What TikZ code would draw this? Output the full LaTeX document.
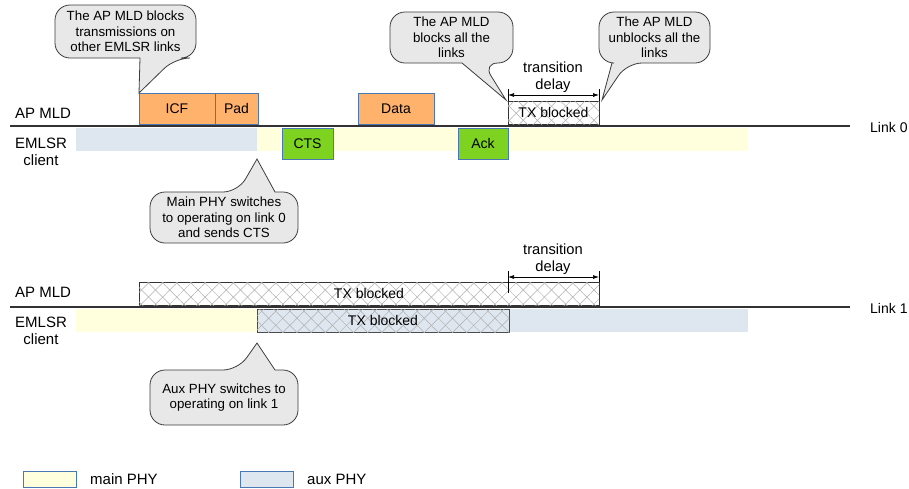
\documentclass[tikz,border=0pt]{standalone}
\usepackage{fontspec}
\setmainfont{Liberation Sans}
\usetikzlibrary{patterns.meta,arrows.meta}
\definecolor{orangebox}{RGB}{255,178,107}
\definecolor{greenbox}{RGB}{126,211,33}
\definecolor{boxedge}{RGB}{74,120,180}
\definecolor{mainphy}{RGB}{255,255,221}
\definecolor{auxphy}{RGB}{222,230,239}
\definecolor{bubblefill}{RGB}{232,232,232}
\definecolor{bubbleedge}{RGB}{60,60,60}
\definecolor{linkline}{RGB}{50,50,50}
\definecolor{hatchcol}{RGB}{175,175,175}
\tikzset{
  pkt/.style={draw=boxedge, line width=0.8pt, inner sep=0pt, outer sep=0pt, anchor=north west, font=\fontsize{14}{16}\selectfont},
  bg/.style={inner sep=0pt, outer sep=0pt, anchor=north west},
  hatched/.style={
    postaction={pattern={Lines[angle=45,distance=10pt,line width=0.5pt]}, pattern color=hatchcol},
    postaction={pattern={Lines[angle=-45,distance=10pt,line width=0.5pt]}, pattern color=hatchcol}},
  txb/.style={draw=black!80, line width=0.8pt, inner sep=0pt, outer sep=0pt, anchor=north west, font=\fontsize{14}{16}\selectfont},
  lbl/.style={font=\fontsize{15}{17}\selectfont, align=center, inner sep=0pt},
  tdl/.style={font=\fontsize{14.7}{17}\selectfont, align=center, inner sep=0pt},
  linklbl/.style={font=\fontsize{14}{16}\selectfont, anchor=west, inner sep=0pt},
  leglbl/.style={font=\fontsize{15}{17}\selectfont, anchor=west, inner sep=0pt},
  bubble/.style={draw=bubbleedge, fill=bubblefill, line width=0.8pt},
  btext/.style={font=\fontsize{13.3}{15.5}\selectfont, align=center, inner sep=0pt},
  linkrule/.style={draw=linkline, line width=1.1pt},
  dim/.style={{Latex[length=6pt,width=4pt]}-{Latex[length=6pt,width=4pt]}, line width=0.7pt},
  tick/.style={line width=0.7pt},
}
% bubble with tail below: x1,y1,x2,y2,tail-left,tail-right,tip
\newcommand\bubbleDown[7]{%
  \draw[bubble] ({(#1+#3)/2},#2) [rounded corners=15pt] -- (#3,#2) -- (#3,#4) -- (#6,#4) [sharp corners] -- #7 -- (#5,#4) [rounded corners=15pt] -- (#1,#4) -- (#1,#2) -- cycle;}
% bubble with tail above: x1,y1,x2,y2,tail-left,tail-right,tip
\newcommand\bubbleUp[7]{%
  \draw[bubble] ({(#1+#3)/2},#4) [rounded corners=15pt] -- (#1,#4) -- (#1,#2) -- (#5,#2) [sharp corners] -- #7 -- (#6,#2) [rounded corners=15pt] -- (#3,#2) -- (#3,#4) -- cycle;}
\begin{document}
\begin{tikzpicture}[x=1pt,y=-1pt]
\useasboundingbox (0,0) rectangle (909,488);

% ---------------- Link 0 ----------------
\node[bg, fill=auxphy, minimum width=181pt, minimum height=23pt] (aux0) at (76,128) {};
\node[bg, fill=mainphy, minimum width=491pt, minimum height=23pt] (main0) at (257,128) {};

\coordinate (l0a) at (10,126);
\coordinate (l0b) at (850,126);
\draw[linkrule] (l0a) -- (l0b);
\node[linklbl] (link0) at (870,127) {Link 0};

\node[lbl, anchor=west] (apmld0) at (15,113) {AP MLD};
\node[lbl] (emlsr0) at (41,152) {EMLSR\\client};

\node[pkt, fill=orangebox, minimum width=76pt, minimum height=31pt] (icf) at (139,93) {ICF};
\node[pkt, fill=orangebox, minimum width=43pt, minimum height=31pt] (pad) at (215,93) {Pad};
\node[pkt, fill=orangebox, minimum width=76pt, minimum height=31pt] (data) at (358,93) {Data};
\node[txb, hatched, minimum width=91pt, minimum height=23pt] (txb0) at (508,101) {TX blocked};

\node[pkt, fill=greenbox, minimum width=51pt, minimum height=31pt] (cts) at (282,128) {CTS};
\node[pkt, fill=greenbox, minimum width=50pt, minimum height=31pt] (ack) at (458,128) {Ack};

% transition delay link 0
\coordinate (d0l) at (508,89);
\coordinate (d0r) at (599,89);
\draw[tick] (d0l) -- (txb0.north west);
\draw[tick] (d0r) -- (txb0.north east);
\coordinate (d0la) at (508,95);
\coordinate (d0ra) at (599,95);
\draw[dim] (d0la) -- (d0ra);
\node[tdl] (td0) at (553,77) {transition\\delay};

% callouts link 0
\bubbleDown{55}{5}{196}{58}{140}{175}{(icf.north west)}
\node[btext] (c1) at (125.5,31.5) {The AP MLD blocks\\transmissions on\\other EMLSR links};

\coordinate (tip2) at (506,100);
\bubbleDown{390}{12}{513}{63}{462}{483}{(tip2)}
\node[btext] (c2) at (451.5,37.5) {The AP MLD\\blocks all the\\links};

\coordinate (tip3) at (602,100);
\bubbleDown{599}{12}{710}{63}{612}{627}{(tip3)}
\node[btext] (c3) at (654.5,37.5) {The AP MLD\\unblocks all the\\links};

\coordinate (tip4) at (257,159);
\bubbleUp{150}{192}{298}{243}{238}{275}{(tip4)}
\node[btext] (c4) at (224,217.5) {Main PHY switches\\to operating on link 0\\and sends CTS};

% ---------------- Link 1 ----------------
\node[bg, fill=mainphy, minimum width=181pt, minimum height=23pt] (main1) at (76,309) {};
\node[bg, fill=auxphy, minimum width=239pt, minimum height=23pt] (aux1) at (509,309) {};

\coordinate (l1a) at (10,307);
\coordinate (l1b) at (850,307);
\draw[linkrule] (l1a) -- (l1b);
\node[linklbl] (link1) at (870,308) {Link 1};

\node[lbl, anchor=west] (apmld1) at (15,292) {AP MLD};
\node[lbl] (emlsr1) at (41,331) {EMLSR\\client};

\node[txb, hatched, minimum width=460pt, minimum height=23pt] (txb1) at (139,282) {TX blocked};
\node[txb, draw=black!70, fill=auxphy, hatched, minimum width=252pt, minimum height=23pt] (txb2) at (257,309) {TX blocked};

% transition delay link 1
\coordinate (d1l) at (508,271);
\coordinate (d1lb) at (508,293);
\coordinate (d1r) at (599,271);
\draw[tick] (d1l) -- (d1lb);
\draw[tick] (d1r) -- (txb1.north east);
\coordinate (d1la) at (508,277);
\coordinate (d1ra) at (599,277);
\draw[dim] (d1la) -- (d1ra);
\node[tdl] (td1) at (553,259) {transition\\delay};

\coordinate (tip5) at (257,343);
\bubbleUp{150}{370}{298}{425}{238}{275}{(tip5)}
\node[btext] (c5) at (224,397.5) {Aux PHY switches to\\operating on link 1};

% ---------------- Legend ----------------
\node[bg, draw=boxedge, line width=0.8pt, fill=mainphy, minimum width=53pt, minimum height=16pt] (legmain) at (23,471) {};
\node[leglbl] (legmaint) at (90,479) {main PHY};
\node[bg, draw=boxedge, line width=0.8pt, fill=auxphy, minimum width=53pt, minimum height=16pt] (legaux) at (240,471) {};
\node[leglbl] (legauxt) at (307,479) {aux PHY};
\end{tikzpicture}
\end{document}
